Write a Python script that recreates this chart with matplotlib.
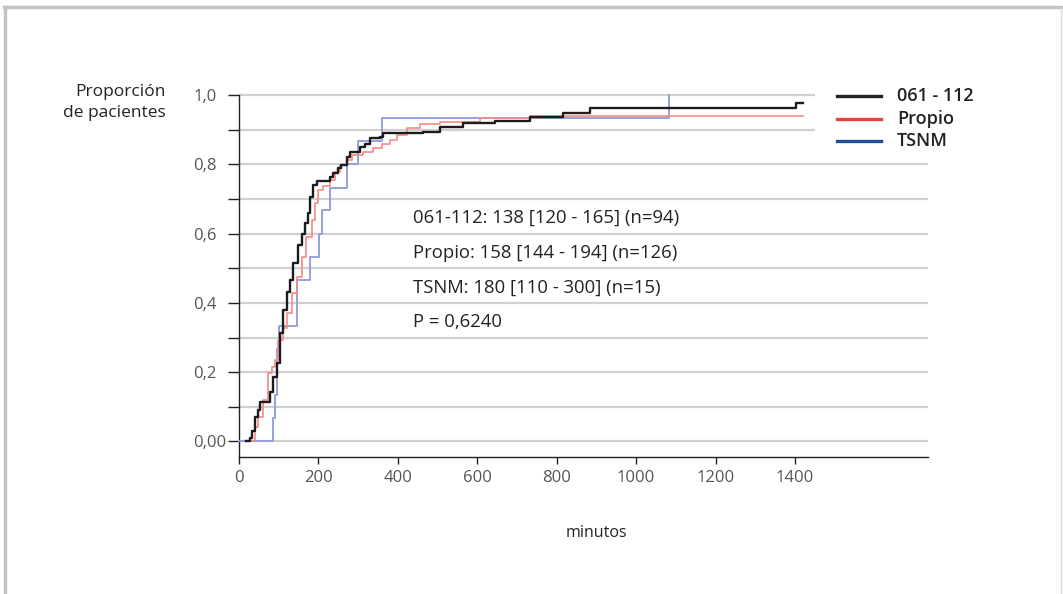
import matplotlib.pyplot as plt
from matplotlib.lines import Line2D

plt.rcParams['font.family'] = ['Open Sans', 'DejaVu Sans']

# Step curves (minutes, cumulative proportion)
t_061 = [18, 28, 32, 40, 49, 53, 78, 86, 95, 103, 112, 120, 128, 137, 149, 158, 166, 175,
         179, 187, 196, 229, 237, 250, 258, 271, 280, 305, 317, 330, 355, 363, 464, 506,
         565, 645, 733, 817, 884, 1402, 1419]
p_061 = [0.0, 0.01, 0.03, 0.07, 0.09, 0.115, 0.144, 0.187, 0.226, 0.313, 0.38, 0.43, 0.466,
         0.515, 0.567, 0.60, 0.63, 0.66, 0.706, 0.74, 0.753, 0.764, 0.774, 0.788, 0.798,
         0.822, 0.836, 0.851, 0.86, 0.875, 0.88, 0.889, 0.894, 0.907, 0.918, 0.925, 0.937,
         0.947, 0.964, 0.976, 0.976]

t_propio = [28, 40, 49, 61, 74, 82, 91, 99, 112, 120, 133, 145, 158, 170, 183, 191, 200,
            212, 229, 242, 254, 271, 284, 313, 338, 359, 380, 397, 422, 456, 506, 607, 733,
            1419]
p_propio = [0.0, 0.043, 0.07, 0.12, 0.197, 0.216, 0.235, 0.293, 0.327, 0.37, 0.428, 0.476,
            0.533, 0.59, 0.64, 0.687, 0.726, 0.736, 0.755, 0.779, 0.798, 0.812, 0.827,
            0.836, 0.846, 0.86, 0.87, 0.885, 0.904, 0.916, 0.923, 0.933, 0.940, 0.940]

t_tsnm = [0, 86, 90, 95, 100, 145, 179, 201, 210, 229, 271, 300, 359, 1084]
p_tsnm = [0.0, 0.067, 0.133, 0.267, 0.333, 0.467, 0.533, 0.6, 0.667, 0.733, 0.8, 0.867,
          0.933, 1.0]

series_names = ['061 - 112', 'Propio', 'TSNM']
legend_colors = ['#222222', '#e8413f', '#1f4f9c']

stats_lines = ['061-112: 138 [120 - 165] (n=94)',
               'Propio: 158 [144 - 194] (n=126)',
               'TSNM: 180 [110 - 300] (n=15)',
               'P = 0,6240']

fig = plt.figure(figsize=(10.63, 5.94), dpi=100)
ax = fig.add_axes([0.2248, 0.2306, 0.873 - 0.2248, 0.840 - 0.2306])

# grey gridlines every 0.1 (top two are cut short by the legend)
for i in range(11):
    yv = i / 10
    xmax = 1450 if yv >= 0.9 else 1735
    ax.plot([0, xmax], [yv, yv], color='#d0d0d0', lw=1.6, zorder=1, clip_on=False,
            solid_capstyle='butt')

ax.plot(t_tsnm, p_tsnm, drawstyle='steps-post', color='#96a0dc', lw=1.4, zorder=3,
        clip_on=False)
ax.plot(t_propio, p_propio, drawstyle='steps-post', color='#f58a80', lw=1.2, zorder=4,
        clip_on=False)
ax.plot(t_061, p_061, drawstyle='steps-post', color='#1c1c1c', lw=1.7, zorder=5,
        clip_on=False)

ax.set_xlim(0, 1735)
ax.set_ylim(-0.045, 1.0)

for s in ['top', 'right']:
    ax.spines[s].set_visible(False)
for s in ['left', 'bottom']:
    ax.spines[s].set_color('#222222')
    ax.spines[s].set_linewidth(1.0)

ax.set_yticks([0, 0.2, 0.4, 0.6, 0.8, 1.0])
ax.set_yticklabels(['0,00', '0,2', '0,4', '0,6', '0,8', '1,0'], ha='left')
ax.set_yticks([0.1, 0.3, 0.5, 0.7, 0.9], minor=True)
ax.tick_params(axis='y', which='both', length=8, width=1, color='#222222', pad=25,
               labelsize=12, labelcolor='#555555')
ax.set_xticks([0, 200, 400, 600, 800, 1000, 1200, 1400])
ax.set_xticklabels(['', '200', '400', '600', '800', '1000', '1200', '1400'])
ax.tick_params(axis='x', length=5, width=1, color='#222222', pad=4, labelsize=12,
               labelcolor='#555555')
ax.text(0, -0.105, '0', ha='center', va='center', fontsize=12, color='#555555')

for i, line in enumerate(stats_lines):
    ax.text(438, 0.645 - i * 0.1, line, fontsize=13.3, color='#222222', va='center')

fig.text(166 / 1063, 1 - 92 / 594, 'Proporción', ha='right', va='center', fontsize=12.5,
         color='#222222')
fig.text(166 / 1063, 1 - 113 / 594, 'de pacientes', ha='right', va='center', fontsize=12.5,
         color='#222222')
fig.text(596 / 1063, 1 - 533 / 594, 'minutos', ha='center', va='center', fontsize=11.5,
         color='#222222')

# manual legend
for i, (name, c) in enumerate(zip(series_names, legend_colors)):
    yy = 1 - (96 + i * 22.5) / 594
    fig.add_artist(Line2D([837 / 1063, 881 / 1063], [yy, yy], color=c, lw=2.4))
    fig.text(897 / 1063, yy, name, fontsize=13, color='#222222', va='center',
             fontweight='semibold')

# page frame
fig.add_artist(Line2D([4 / 1063, 1], [1 - 7 / 594, 1 - 7 / 594], color='#c4c4c4', lw=2.5))
fig.add_artist(Line2D([5 / 1063, 5 / 1063], [0, 1 - 7 / 594], color='#c4c4c4', lw=2.5))
fig.add_artist(Line2D([1061 / 1063, 1061 / 1063], [0, 1 - 7 / 594], color='#dddddd', lw=1))

fig.savefig('out.png', dpi=100)
